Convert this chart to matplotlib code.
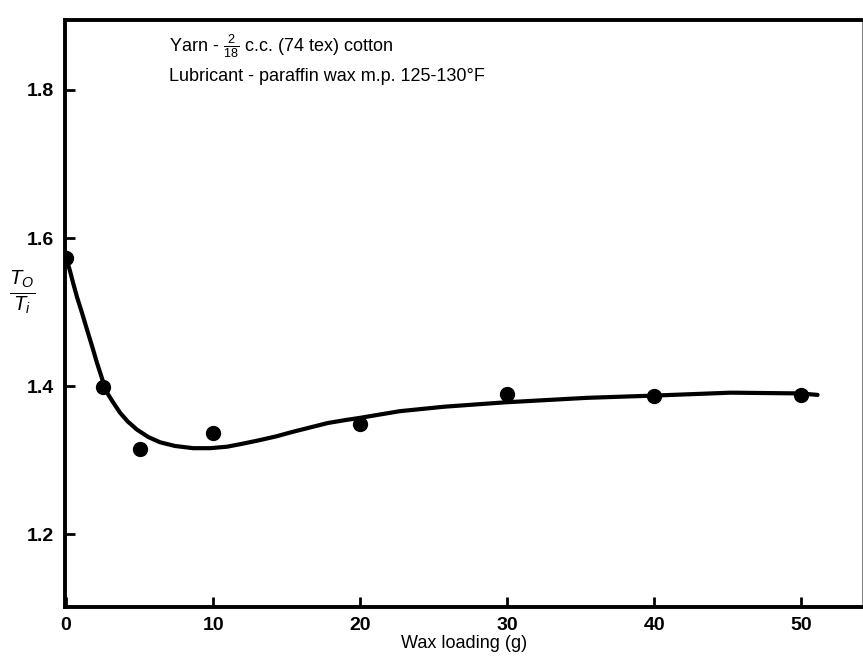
import matplotlib
matplotlib.use('Agg')
import matplotlib.pyplot as plt

plt.rcParams['font.family'] = ['Liberation Sans Narrow', 'Liberation Sans', 'DejaVu Sans']
plt.rcParams['mathtext.fontset'] = 'custom'
plt.rcParams['mathtext.rm'] = 'Liberation Sans'
plt.rcParams['mathtext.it'] = 'Liberation Sans:italic'

# measured points
wax = [0, 2.5, 5, 10, 20, 30, 40, 50]
ratio = [1.573, 1.399, 1.315, 1.336, 1.348, 1.389, 1.387, 1.388]

# hand-drawn curve
curve_x = [0, 0.25, 0.5, 0.75, 1.1, 1.43, 1.8, 2.11, 2.5, 2.79, 3.2, 3.67, 4.2,
           4.83, 5.6, 6.39, 7.4, 8.64, 9.8, 10.95, 12.0, 13.2, 14.3, 15.4,
           16.6, 17.8, 19.0, 20.0, 22.7, 25.7, 29.9, 35.4, 39.9, 45.2, 49.9, 51.1]
curve_y = [1.573, 1.557, 1.538, 1.520, 1.498, 1.476, 1.452, 1.431, 1.407, 1.391,
           1.378, 1.364, 1.352, 1.341, 1.331, 1.324, 1.319, 1.316, 1.316, 1.318,
           1.322, 1.327, 1.332, 1.338, 1.344, 1.350, 1.354, 1.357, 1.366, 1.372,
           1.378, 1.384, 1.387, 1.391, 1.390, 1.388]

xticks = [0, 10, 20, 30, 40, 50]
yticks = [1.2, 1.4, 1.6, 1.8]

fig = plt.figure(figsize=(8.63, 6.66), dpi=100)
ax = fig.add_axes([0.0753, 0.0886, 0.924, 0.8814])

ax.plot(curve_x, curve_y, color='black', lw=3.0, solid_capstyle='round',
        solid_joinstyle='round', zorder=2)
ax.plot(wax, ratio, 'o', color='black', ms=10, zorder=3)

ax.set_xlim(-0.07, 54.15)
ax.set_ylim(1.1014, 1.8946)
ax.set_xticks(xticks)
ax.set_xticklabels([str(t) for t in xticks])
ax.set_yticks(yticks)
ax.set_yticklabels(['%.1f' % t for t in yticks])

for s in ['left', 'bottom', 'top']:
    ax.spines[s].set_linewidth(2.8)
ax.spines['right'].set_linewidth(0.8)
ax.spines['right'].set_color('#888888')

ax.tick_params(direction='in', length=7, width=2)
ax.tick_params(axis='x', pad=7, labelsize=14)
ax.tick_params(axis='y', pad=8, labelsize=14)
for lab in ax.get_xticklabels() + ax.get_yticklabels():
    lab.set_fontweight('bold')

ax.set_xlabel('Wax loading (g)', fontsize=13, labelpad=1)

fig.text(0.026, 0.562, r'$\frac{T_O}{T_i}$', fontsize=21, ha='center', va='center')

ax.text(0.13, 0.955, r'Yarn - $\frac{2}{18}$ c.c. (74 tex) cotton', transform=ax.transAxes,
        fontsize=13, ha='left', va='center')
ax.text(0.13, 0.904, 'Lubricant - paraffin wax m.p. 125-130°F', transform=ax.transAxes,
        fontsize=13, ha='left', va='center')

fig.savefig('out.png', dpi=100)
